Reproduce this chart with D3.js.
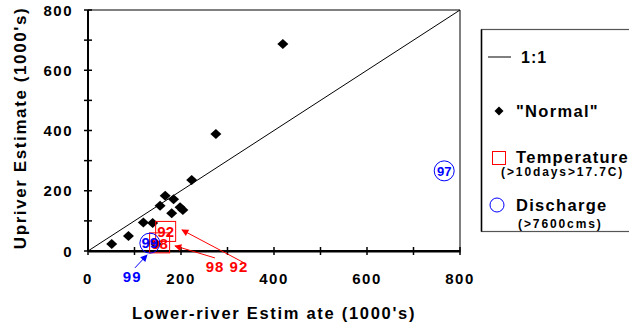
<!DOCTYPE html>
<html><head><meta charset="utf-8">
<script src="https://cdn.jsdelivr.net/npm/d3@7"></script>
<style>
body{margin:0;background:#fff;}
text{font-family:"Liberation Sans",Arial,sans-serif;font-weight:bold;}
</style></head>
<body><svg id="c" width="629" height="328"></svg>
<script>
// Data (1000's)
const normalPts = [[51,23],[87,50],[119,95],[139,93],[146,23],[155,150],[166,183],[184,172],[180,125],[198,145],[204,136],[223,236],[275,388],[419,687]];
const tempYears = ["92","98"];
const tempX = [167,154];
const tempY = [65,27];
const dischYears = ["99","97"];
const dischX = [133,766];
const dischY = [26,266];
const xTicks = [0,200,400,600,800];
const yTicks = [0,200,400,600,800];
const minorTicks = [0,100,200,300,400,500,600,700,800];
// annotation arrows in data units [x1,y1,x2,y2]
const redArrows = [[333,-37,202,70],[273,-23,187,17]];
const blueArrows = [[101,-56,127,-13]];
const redLabel = {text:"98 92", x:299, y:-53};
const blueLabel = {text:"99", x:95, y:-86};

const svg = d3.select("#c");
const L=88,R=460,T=10,B=251;
const x = d3.scaleLinear().domain([0,800]).range([L,R]);
const y = d3.scaleLinear().domain([0,800]).range([B,T]);
const diamond = (w,h)=>`M0,${-h}L${w},0L0,${h}L${-w},0Z`;

const defs = svg.append("defs");
[["ar","#ff0000"],["ab","#0000ff"]].forEach(([id,c])=>{
  defs.append("marker").attr("id",id).attr("viewBox","0 0 10 10").attr("refX",9).attr("refY",5)
   .attr("markerWidth",9).attr("markerHeight",7).attr("orient","auto").attr("markerUnits","userSpaceOnUse")
   .append("path").attr("d","M0,0L10,5L0,10z").attr("fill",c);
});

// frame top/right grey
svg.append("line").attr("x1",L).attr("x2",R).attr("y1",T).attr("y2",T).attr("stroke","#808080").attr("stroke-width",2);
svg.append("line").attr("x1",R).attr("x2",R).attr("y1",T).attr("y2",B).attr("stroke","#808080").attr("stroke-width",2);

// 1:1 line
svg.append("line").attr("x1",x(0)).attr("y1",y(0)).attr("x2",x(800)).attr("y2",y(800)).attr("stroke","#000").attr("stroke-width",1);

// axes
const xa = svg.append("g").attr("transform",`translate(0,${B})`)
  .call(d3.axisBottom(x).tickValues(minorTicks).tickSize(0).tickFormat(""));
xa.select(".domain").attr("stroke","#000").attr("stroke-width",2);
xa.selectAll(".tick line").remove();
minorTicks.forEach(v=>svg.append("line").attr("x1",x(v)).attr("x2",x(v)).attr("y1",B-4).attr("y2",B+4).attr("stroke","#000").attr("stroke-width",1.5));
minorTicks.forEach(v=>svg.append("line").attr("y1",y(v)).attr("y2",y(v)).attr("x1",L-4).attr("x2",L+4).attr("stroke","#000").attr("stroke-width",1.5));
svg.append("line").attr("x1",L).attr("x2",L).attr("y1",T).attr("y2",B).attr("stroke","#000").attr("stroke-width",2);
svg.append("line").attr("x1",L).attr("x2",R).attr("y1",B).attr("y2",B).attr("stroke","#000").attr("stroke-width",2);

svg.selectAll(".xl").data(xTicks).enter().append("text").attr("x",d=>x(d)).attr("y",B+33)
  .attr("text-anchor","middle").attr("font-size",15).attr("letter-spacing",1.5).text(d=>d);
svg.selectAll(".yl").data(yTicks).enter().append("text").attr("x",73).attr("y",d=>y(d)+5.5)
  .attr("text-anchor","end").attr("font-size",15).attr("letter-spacing",1.5).text(d=>d);

svg.append("text").attr("x",274).attr("y",319).attr("text-anchor","middle").attr("font-size",16.5).attr("letter-spacing",1.7).text("Lower-river Estim ate (1000's)");
svg.append("text").attr("transform","translate(26,128) rotate(-90)").attr("text-anchor","middle").attr("font-size",17).attr("letter-spacing",1.6).text("Upriver Estimate (1000's)");

// normal diamonds
svg.selectAll(".n").data(normalPts).enter().append("path").attr("d",diamond(5.5,5))
  .attr("transform",d=>`translate(${x(d[0])},${y(d[1])})`).attr("fill","#000");

// temperature squares
tempYears.forEach((yr,i)=>{
  const cx=x(tempX[i]), cy=y(tempY[i]);
  svg.append("rect").attr("x",cx-10).attr("y",cy-10).attr("width",20).attr("height",20).attr("fill","none").attr("stroke","#ff0000").attr("stroke-width",1);
  svg.append("text").attr("x",cx).attr("y",cy+6).attr("text-anchor","middle").attr("font-size",15).attr("fill","#ff0000").text(yr);
});
// discharge circles
dischYears.forEach((yr,i)=>{
  const cx=x(dischX[i]), cy=y(dischY[i]);
  svg.append("circle").attr("cx",cx).attr("cy",cy).attr("r",10).attr("fill","none").attr("stroke","#0000ff").attr("stroke-width",1);
  svg.append("text").attr("x",cx).attr("y",cy+5).attr("text-anchor","middle").attr("font-size",i==0?15:13).attr("fill","#0000ff").text(yr);
});

// annotations
redArrows.forEach(a=>svg.append("line").attr("x1",x(a[0])).attr("y1",y(a[1])).attr("x2",x(a[2])).attr("y2",y(a[3])).attr("stroke","#ff0000").attr("stroke-width",1).attr("marker-end","url(#ar)"));
blueArrows.forEach(a=>svg.append("line").attr("x1",x(a[0])).attr("y1",y(a[1])).attr("x2",x(a[2])).attr("y2",y(a[3])).attr("stroke","#0000ff").attr("stroke-width",1).attr("marker-end","url(#ab)"));
svg.append("text").attr("x",x(redLabel.x)).attr("y",y(redLabel.y)+5).attr("text-anchor","middle").attr("font-size",15).attr("letter-spacing",1).attr("fill","#ff0000").attr("xml:space","preserve").text(redLabel.text);
svg.append("text").attr("x",x(blueLabel.x)).attr("y",y(blueLabel.y)+5).attr("text-anchor","middle").attr("font-size",15).attr("letter-spacing",1).attr("fill","#0000ff").text(blueLabel.text);

// legend
const lg = svg.append("g");
lg.append("rect").attr("x",481.5).attr("y",29.5).attr("width",170).attr("height",202).attr("fill","#fff").attr("stroke","#555").attr("stroke-width",1.2);
lg.append("line").attr("x1",481.5).attr("x2",481.5).attr("y1",29.5).attr("y2",231.5).attr("stroke","#000").attr("stroke-width",1.5);
lg.append("line").attr("x1",488).attr("x2",511).attr("y1",57).attr("y2",57).attr("stroke","#000").attr("stroke-width",1);
lg.append("text").attr("x",521).attr("y",62.5).attr("font-size",16).attr("letter-spacing",1).text("1:1");
lg.append("path").attr("d",diamond(4.5,4.5)).attr("transform","translate(499,111)").attr("fill","#000");
lg.append("text").attr("x",516).attr("y",116.5).attr("font-size",16.5).attr("letter-spacing",1.3).text("\"Normal\"");
lg.append("rect").attr("x",492.5).attr("y",151.5).attr("width",13).attr("height",13).attr("fill","none").attr("stroke","#ff0000");
lg.append("text").attr("x",516).attr("y",163).attr("font-size",16.5).attr("letter-spacing",1.3).text("Temperature");
lg.append("text").attr("x",501).attr("y",176).attr("font-size",12).attr("letter-spacing",1.9).text("(>10days>17.7C)");
lg.append("circle").attr("cx",497).attr("cy",205).attr("r",7).attr("fill","none").attr("stroke","#0000ff");
lg.append("text").attr("x",516).attr("y",211).attr("font-size",16.5).attr("letter-spacing",1.3).text("Discharge");
lg.append("text").attr("x",518).attr("y",228).attr("font-size",12).attr("letter-spacing",1.9).text("(>7600cms)");
</script></body></html>
